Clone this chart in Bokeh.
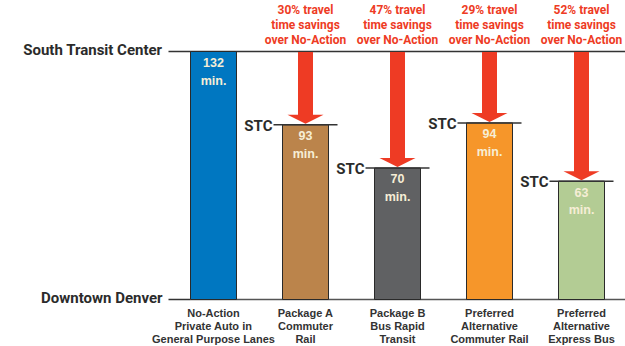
from bokeh.plotting import figure
from bokeh.models import ColumnDataSource, Range1d
from bokeh.core.properties import value
from bokeh.embed import file_html
from bokeh.resources import INLINE

# ---- data ----
categories = [
    ["No-Action", "Private Auto in", "General Purpose Lanes"],
    ["Package A", "Commuter", "Rail"],
    ["Package B", "Bus Rapid", "Transit"],
    ["Preferred", "Alternative", "Commuter Rail"],
    ["Preferred", "Alternative", "Express Bus"],
]
minutes = [132, 93, 70, 94, 63]
savings = [None, "30%", "47%", "29%", "52%"]
bar_colors = ["#0077c1", "#bb844b", "#606163", "#f6962a", "#b3cc94"]
top_label = "South Transit Center"
bottom_label = "Downtown Denver"
stc_label = "STC"

# ---- scales (pixel geometry of the frame) ----
W, H = 625, 346
px_per_min = 248 / 132.0
y0_px = 299
ystart = -(H - y0_px) / px_per_min
yend = 132 + (y0_px - 248) / px_per_min
px_per_cat = 92.0
c0_px = 213
xstart = -c0_px / px_per_cat
xend = (W - c0_px) / px_per_cat

p = figure(width=W, height=H, output_backend="svg", toolbar_location=None,
           x_range=Range1d(xstart, xend), y_range=Range1d(ystart, yend),
           min_border=0, min_border_left=0, min_border_right=0,
           min_border_top=0, min_border_bottom=0)
p.axis.visible = False
p.grid.visible = False
p.outline_line_color = None
p.background_fill_color = "white"
p.border_fill_color = "white"

idx = list(range(len(minutes)))
bw = 46 / px_per_cat
cond = value("Roboto")
arial = value("Liberation Sans")
dark = "#2b2b2b"
red = "#ee3b24"

# baseline and top line
p.segment(x0=[-bw / 2], y0=[0], x1=[xend], y1=[0], line_color="#555555", line_width=1.5)
p.segment(x0=[(168 - c0_px) / px_per_cat], y0=[0], x1=[-bw / 2], y1=[0], line_color="#333333", line_width=1.5)
p.segment(x0=[(168 - c0_px) / px_per_cat], y0=[minutes[0]], x1=[xend], y1=[minutes[0]],
          line_color="#333333", line_width=1.5)

# bars
src = ColumnDataSource(dict(x=idx, top=minutes, color=bar_colors))
p.vbar(x="x", top="top", bottom=0, width=bw, fill_color="color", source=src,
       line_color="#2a2a2a", line_width=1)

# STC ticks for the alternatives
ext = 9 / px_per_cat
for i in idx[1:]:
    p.segment(x0=[i - bw / 2 - ext], y0=[minutes[i]], x1=[i + bw / 2 + ext], y1=[minutes[i]],
              line_color="#333333", line_width=1.5)
    p.text(x=[i - bw / 2 - ext - 1 / px_per_cat], y=[minutes[i]], text=[stc_label],
           text_align="right", text_baseline="middle", text_font=cond, text_font_style="bold",
           text_font_size="15px", text_color=dark, y_offset=1)

# arrows
shaft_w = 15 / px_per_cat
head_w = 36 / px_per_cat
head_h = 10 / px_per_min
for i in idx[1:]:
    top = minutes[0] - 0.5 / px_per_min
    base = minutes[i] + head_h
    p.patch(x=[i - shaft_w / 2, i + shaft_w / 2, i + shaft_w / 2, i + head_w / 2, i,
               i - head_w / 2, i - shaft_w / 2],
            y=[top, top, base, base, minutes[i] + 1 / px_per_min, base, base],
            fill_color=red, line_color=None)
    lines = [savings[i] + " travel", "time savings", "over No-Action"]
    for k, t in enumerate(lines):
        p.text(x=[i], y=[minutes[0]], text=[t], text_align="center", text_baseline="middle",
               text_font=cond, text_font_style="bold", text_font_size="12px",
               text_color=red, y_offset=-42 + 15 * k)

# value labels in bars
for i in idx:
    p.text(x=[i], y=[minutes[i]], text=[str(minutes[i])], text_align="center",
           text_baseline="middle", text_font=arial, text_font_style="bold",
           text_font_size="12.5px", text_color="#f6eed6", y_offset=11)
    p.text(x=[i], y=[minutes[i]], text=["min."], text_align="center",
           text_baseline="middle", text_font=arial, text_font_style="bold",
           text_font_size="12.5px", text_color="#f6eed6", y_offset=29)

# category labels
for i in idx:
    for k, t in enumerate(categories[i]):
        p.text(x=[i], y=[0], text=[t], text_align="center", text_baseline="middle",
               text_font=arial, text_font_style="bold", text_font_size="11px",
               text_color="#333333", y_offset=13 + 13 * k)

# stop labels
p.text(x=[(162 - c0_px) / px_per_cat], y=[minutes[0]], text=[top_label], text_align="right",
       text_baseline="middle", text_font=cond, text_font_style="bold", text_font_size="15px",
       text_color=dark, y_offset=-2)
p.text(x=[(162 - c0_px) / px_per_cat], y=[0], text=[bottom_label], text_align="right",
       text_baseline="middle", text_font=cond, text_font_style="bold", text_font_size="15px",
       text_color=dark, y_offset=-2)

open("out.html", "w").write(file_html(p, INLINE))
